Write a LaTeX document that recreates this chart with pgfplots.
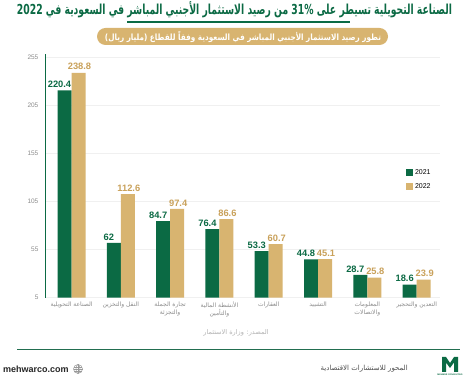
\documentclass[border=0pt]{standalone}
\usepackage{fontspec}
\usepackage{pgfplots}
\pgfplotsset{compat=1.18}
\setmainfont{Liberation Sans}
\newfontfamily\arabicfont[Script=Arabic]{DejaVu Sans}
\TeXXeTstate=1
\definecolor{dgreen}{HTML}{0B6A44}
\definecolor{gold}{HTML}{D8B470}
\definecolor{goldtxt}{HTML}{C9A15A}
\definecolor{tgray}{HTML}{8C8C8C}
\begin{document}
\begin{tikzpicture}[x=1pt,y=1pt]
\useasboundingbox (0,0) rectangle (474,382);
\fill[white] (0,0) rectangle (474,382);
% title
\node[text=dgreen, inner sep=0pt, anchor=base] at (234.5,367.8) {\resizebox{435pt}{13pt}{\arabicfont\bfseries\beginR الصناعة التحويلية تسيطر على \beginL 31\%\endL{} من رصيد الاستثمار الأجنبي المباشر في السعودية في \beginL 2022\endL\endR}};
\draw[dgreen, line width=2pt] (127,359.5) -- (350,359.5);
% subtitle pill
\fill[gold, rounded corners=8.5pt] (97,337) rectangle (388,354);
\node[text=white, inner sep=0pt, anchor=base] at (243,341.5) {\resizebox{276pt}{9pt}{\arabicfont\bfseries\beginR تطور رصيد الاستثمار الأجنبي المباشر في السعودية وفقاً للقطاع (مليار ريال)\endR}};
\begin{axis}[
  at={(45.9pt,84.3pt)}, anchor=south west, scale only axis,
  width=394.4pt, height=243.4pt,
  xmin=-0.52, xmax=7.48, ymin=5, ymax=258,
  ytick={5,55,105,155,205,255},
  xtick={0,...,7},
  xticklabels={
    {{\arabicfont\beginR الصناعة التحويلية\endR}},
    {{\arabicfont\beginR النقل والتخزين\endR}},
    {{\arabicfont\beginR تجارة الجملة\endR}\\{\arabicfont\beginR والتجزئة\endR}},
    {{\arabicfont\beginR الأنشطة المالية\endR}\\{\arabicfont\beginR والتأمين\endR}},
    {{\arabicfont\beginR العقارات\endR}},
    {{\arabicfont\beginR التشييد\endR}},
    {{\arabicfont\beginR المعلومات\endR}\\{\arabicfont\beginR والاتصالات\endR}},
    {{\arabicfont\beginR التعدين والتحجير\endR}}
  },
  axis lines*=left,
  x axis line style={draw=none},
  y axis line style={dgreen, line width=1pt, -},
  major tick length=0pt,
  ymajorgrids, grid style={gray!12, line width=0.4pt},
  yticklabel style={font=\fontsize{6.5}{7}\selectfont, text=tgray, xshift=-4pt},
  xticklabel style={font=\fontsize{6}{8}\selectfont, text=tgray, align=center, yshift=-1pt},
  /pgf/number format/assume math mode=true,
  ybar=0pt, bar width=14pt,
  legend style={draw=none, fill=none, font=\fontsize{7}{8}\selectfont, at={(0.905,0.545)}, anchor=north west, row sep=4pt, /tikz/every even column/.append style={column sep=3pt}},
  legend cell align=left,
  legend image code/.code={\fill[#1] (0pt,-3.2pt) rectangle (7pt,3.8pt);},
  nodes near coords,
  clip=false,
]
\addplot[fill=dgreen, draw=none, nodes near coords style={font=\bfseries\fontsize{9.3}{10}\selectfont, text=dgreen, inner sep=2.5pt, xshift=-5pt, /pgf/number format/assume math mode=true}] coordinates {(0,220.4) (1,62) (2,84.7) (3,76.4) (4,53.3) (5,44.8) (6,28.7) (7,18.6)};
\addplot[fill=gold, draw=none, nodes near coords style={font=\bfseries\fontsize{9.3}{10}\selectfont, text=goldtxt, inner sep=2.5pt, xshift=1pt, /pgf/number format/assume math mode=true}] coordinates {(0,238.8) (1,112.6) (2,97.4) (3,86.6) (4,60.7) (5,45.1) (6,25.8) (7,23.9)};
\legend{2021,2022}
\end{axis}
% source
\node[text=gray!60, font=\fontsize{6.5}{7}\selectfont] at (236,49) {{\arabicfont\beginR المصدر: وزارة الاستثمار\endR}};
% footer
\draw[dgreen!80!gray, line width=0.8pt] (17,33) -- (460,33);
\node[anchor=west, inner sep=0pt, font=\bfseries\fontsize{9}{10}\selectfont, text=black!85] at (3,13) {mehwarco.com};
\begin{scope}[shift={(78,13)}, gray!80, line width=0.5pt]
\draw (0,0) circle (4.5);
\draw (0,0) ellipse (2 and 4.5);
\draw (-4.5,0) -- (4.5,0);
\draw (-4,2.2) -- (4,2.2);
\draw (-4,-2.2) -- (4,-2.2);
\draw (0,-4.5) -- (0,4.5);
\end{scope}
\node[anchor=east, inner sep=0pt, text=black!70, font=\fontsize{7}{8}\selectfont] at (408,13) {{\arabicfont\beginR المحور للاستشارات الاقتصادية\endR}};
\fill[dgreen] (442,10) -- (442,25) -- (446,25) -- (450,19) -- (454,25) -- (458,25) -- (458,10) -- (454,10) -- (454,19.5) -- (450,14) -- (446,19.5) -- (446,10) -- cycle;
\node[font=\bfseries\fontsize{2.2}{2.5}\selectfont, text=dgreen, inner sep=0pt] at (450,7) {MEHWAR CONSULTING};
\end{tikzpicture}
\end{document}
